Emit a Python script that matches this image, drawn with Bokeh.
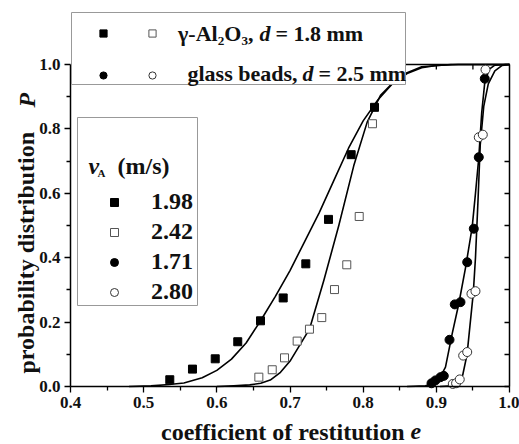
from bokeh.plotting import figure
from bokeh.models import (Legend, LegendItem, Label, LinearAxis, FixedTicker,
                          PrintfTickFormatter, Range1d, BoxAnnotation)
from bokeh.embed import file_html
from bokeh.resources import INLINE

# ---------------- data ----------------
# gamma-Al2O3, vA = 1.98 m/s (filled squares)
al198_e = [0.5357, 0.5667, 0.5978, 0.6286, 0.6597, 0.6907, 0.7216, 0.7526, 0.7836, 0.8155]
al198_p = [0.021, 0.054, 0.086, 0.139, 0.204, 0.275, 0.381, 0.519, 0.720, 0.867]
# gamma-Al2O3, vA = 2.42 m/s (open squares)
al242_e = [0.6574, 0.6757, 0.6925, 0.7098, 0.7266, 0.7434, 0.7608, 0.7776, 0.7946, 0.8127]
al242_p = [0.029, 0.052, 0.089, 0.141, 0.178, 0.214, 0.301, 0.378, 0.528, 0.816]
# glass beads, vA = 1.71 m/s (filled circles)
gb171_e = [0.8934, 0.8988, 0.9057, 0.9102, 0.918, 0.9252, 0.933, 0.9422, 0.9512, 0.958, 0.9662]
gb171_p = [0.010, 0.019, 0.029, 0.033, 0.145, 0.255, 0.262, 0.386, 0.490, 0.712, 0.956]
# glass beads, vA = 2.80 m/s (open circles)
gb280_e = [0.9225, 0.927, 0.932, 0.9367, 0.9422, 0.948, 0.9535, 0.958, 0.9635, 0.9672]
gb280_p = [0.008, 0.010, 0.022, 0.096, 0.107, 0.288, 0.296, 0.774, 0.782, 0.984]

# fitted curves
fit198_e = [0.48, 0.51, 0.535, 0.555, 0.58, 0.60, 0.62, 0.64, 0.66, 0.68, 0.70, 0.72,
            0.74, 0.76, 0.78, 0.80, 0.82, 0.84, 0.86, 0.88, 0.90, 0.93, 1.0]
fit198_p = [0.0, 0.002, 0.006, 0.011, 0.027, 0.050, 0.085, 0.135, 0.205, 0.28, 0.36, 0.45,
            0.54, 0.64, 0.74, 0.825, 0.89, 0.94, 0.972, 0.99, 0.997, 1.0, 1.0]
fit242_e = [0.60, 0.623, 0.645, 0.66, 0.673, 0.687, 0.7007, 0.7266, 0.7462, 0.7667, 0.7872,
            0.8055, 0.8237, 0.85, 0.88, 0.92, 1.0]
fit242_p = [0.0, 0.002, 0.005, 0.010, 0.020, 0.044, 0.081, 0.178, 0.329, 0.50, 0.686,
            0.821, 0.904, 0.965, 0.993, 1.0, 1.0]
fit171_e = [0.86, 0.885, 0.895, 0.903, 0.9125, 0.9217, 0.9307, 0.94, 0.949, 0.9535, 0.958,
            0.962, 0.966, 0.972, 0.98, 1.0]
fit171_p = [0.0, 0.002, 0.008, 0.019, 0.06, 0.164, 0.257, 0.37, 0.495, 0.60, 0.71,
            0.85, 0.94, 0.985, 0.998, 1.0]
fit280_e = [0.905, 0.922, 0.930, 0.936, 0.942, 0.946, 0.9505, 0.9535, 0.957, 0.960, 0.9648,
            0.971, 0.98, 0.99, 1.0]
fit280_p = [0.0, 0.002, 0.010, 0.035, 0.10, 0.19, 0.29, 0.40, 0.58, 0.75, 0.87,
            0.94, 0.98, 0.997, 1.0]

va_labels = ["1.98", "2.42", "1.71", "2.80"]
x_major = [0.4, 0.5, 0.6, 0.7, 0.8, 0.9, 1.0]
x_minor = [0.45, 0.55, 0.65, 0.75, 0.85, 0.95]
y_major = [0.0, 0.2, 0.4, 0.6, 0.8, 1.0]
y_minor = [0.1, 0.3, 0.5, 0.7, 0.9]
x_lo, x_hi = 0.4, 1.0
y_lo, y_hi = 0.0, 1.0

FONT = "Liberation Serif"
W, H = 519, 444
# plot box in canvas pixels: left 70, right 509, top 64, bottom 386
PL, PR, PT, PB = 70, 509, 64, 386
xs = (x_hi - x_lo) / (PR - PL)
ys = (y_hi - y_lo) / (PB - PT)
BOX_TOP = (71, 405, 12, 84)     # top legend box (left, right, top, bottom) in px
BOX_VA = (77, 197, 117, 305)    # vA legend box in px

def px2x(px):
    return x_lo + (px - PL) * xs

def px2y(py):
    return y_hi - (py - PT) * ys

p = figure(width=W, height=H, output_backend="svg", toolbar_location=None,
           x_range=Range1d(px2x(0), px2x(W)), y_range=Range1d(px2y(H), px2y(0)),
           min_border=0, min_border_left=0, min_border_right=0,
           min_border_top=0, min_border_bottom=0,
           background_fill_color="white", border_fill_color="white")
p.grid.visible = False
p.outline_line_color = None

def style_axis(ax, show_labels=True, inward=False):
    ax.axis_line_color = "black"
    ax.axis_line_width = 1.5
    ax.major_tick_line_color = "black"
    ax.minor_tick_line_color = "black"
    ax.major_tick_line_width = 1.3
    ax.minor_tick_line_width = 1.3
    if inward:
        ax.major_tick_in, ax.major_tick_out = 6, 0
        ax.minor_tick_in, ax.minor_tick_out = 5, 0
    else:
        ax.major_tick_in, ax.major_tick_out = 0, 6
        ax.minor_tick_in, ax.minor_tick_out = 0, 4
    if show_labels:
        ax.major_label_text_font = FONT
        ax.major_label_text_font_style = "bold"
        ax.major_label_text_font_size = "17px"
        ax.major_label_text_color = "#111111"
        ax.major_label_standoff = 4

xa = p.xaxis[0]
ya = p.yaxis[0]
xa.ticker = FixedTicker(ticks=x_major, minor_ticks=x_minor)
ya.ticker = FixedTicker(ticks=y_major, minor_ticks=y_minor)
xa.formatter = PrintfTickFormatter(format="%.1f")
ya.formatter = PrintfTickFormatter(format="%.1f")
xa.fixed_location = y_lo
ya.fixed_location = x_lo
xa.bounds = (x_lo, x_hi)
ya.bounds = (y_lo, y_hi)
style_axis(xa)
style_axis(ya)

right_ax = LinearAxis(ticker=FixedTicker(ticks=[], minor_ticks=y_major + y_minor),
                      fixed_location=x_hi, bounds=(y_lo, y_hi))
style_axis(right_ax, show_labels=False, inward=True)
p.add_layout(right_ax, "right")

# top border (only the part right of the legend box shows in the reference) + inward ticks
top_start = px2x(BOX_TOP[1])
p.line([top_start, x_hi], [y_hi, y_hi], line_color="black", line_width=1.5)
top_ticks = [t for t in sorted(x_major + x_minor) if top_start < t < x_hi]
p.segment(x0=top_ticks, y0=[y_hi] * len(top_ticks), x1=top_ticks,
          y1=[y_hi - 5 * ys] * len(top_ticks), line_color="black", line_width=1.3)

# fitted curves
for fe, fp in [(fit198_e, fit198_p), (fit242_e, fit242_p), (fit171_e, fit171_p), (fit280_e, fit280_p)]:
    p.line(fe, fp, line_color="black", line_width=1.6, line_join="round")

# data points
rA = p.scatter(al198_e, al198_p, marker="square", size=8, fill_color="black", line_color="black")
rB = p.scatter(al242_e, al242_p, marker="square", size=8, fill_color="white", line_color="#555555", line_width=1)
rC = p.scatter(gb171_e, gb171_p, marker="circle", size=9, fill_color="black", line_color="black")
rD = p.scatter(gb280_e, gb280_p, marker="circle", size=9, fill_color="white", line_color="#333333", line_width=1)

# legend boxes (white, grey frame)
for l, r, t, b in [BOX_TOP, BOX_VA]:
    p.add_layout(BoxAnnotation(left=px2x(l), right=px2x(r), top=px2y(t), bottom=px2y(b),
                               fill_color="white", fill_alpha=1.0,
                               line_color="#999999", line_width=1, line_alpha=1.0))

def lab(text, x, y, size, style="bold", align="left", angle=0.0):
    # x, y: canvas pixels from the top-left corner; y is the text's vertical middle
    p.add_layout(Label(x=x, y=H - y, x_units="screen", y_units="screen", text=text,
                       text_font=FONT, text_font_style=style, text_font_size=size,
                       text_align=align, text_baseline="middle", angle=angle,
                       text_color="#111111"))

# top legend texts
lab("\u03b3-Al\u2082O\u2083,", 253, 33, "22px", align="right")
lab("d", 259, 33, "22px", style="bold italic")
lab("= 1.8 mm", 275, 33, "22px")
lab("glass beads,", 297, 73, "22px", align="right")
lab("d", 302, 73, "22px", style="bold italic")
lab("= 2.5 mm", 318, 73, "22px")

# vA legend title
lab("v", 88, 165, "24px", style="bold italic")
lab("A", 97, 172, "11px")
lab("(m/s)", 117, 165, "24px")

# axis titles
lab("coefficient of restitution", 404, 431, "24px", align="right")
lab("e", 410, 431, "24px", style="bold italic")
lab("probability distribution", 26, 373, "24px", angle=1.5708)
lab("P", 26, 107, "24px", style="bold italic", angle=1.5708)

# ---- legend markers (transparent legends placed inside the boxes) ----
common = dict(orientation="vertical", margin=0, padding=0, spacing=24,
              glyph_height=18, label_height=18, label_text_font_size="8px",
              title="\u00a0", title_text_font_size="10px", title_standoff=0,
              border_line_color=None, background_fill_alpha=0.0, label_standoff=0)
legA = Legend(items=[LegendItem(label=" ", renderers=[rA]), LegendItem(label=" ", renderers=[rC])],
              location=(71, H - 84), glyph_width=64, label_width=1, **common)
legB = Legend(items=[LegendItem(label=" ", renderers=[rB]), LegendItem(label=" ", renderers=[rD])],
              location=(142, H - 84), glyph_width=20, label_width=1, **common)
legC = Legend(items=[LegendItem(label=t, renderers=[r]) for t, r in zip(va_labels, [rA, rB, rC, rD])],
              location=(77, H - 305), orientation="vertical", margin=0, padding=2, spacing=3,
              glyph_width=74, glyph_height=20, label_height=20, label_standoff=0,
              label_text_font=FONT, label_text_font_style="bold", label_text_font_size="24px",
              label_text_color="#111111",
              title="\u00a0", title_text_font_size="50px", title_standoff=6,
              border_line_color=None, background_fill_alpha=0.0)
p.add_layout(legA)
p.add_layout(legB)
p.add_layout(legC)

open("out.html", "w").write(file_html(p, INLINE))
